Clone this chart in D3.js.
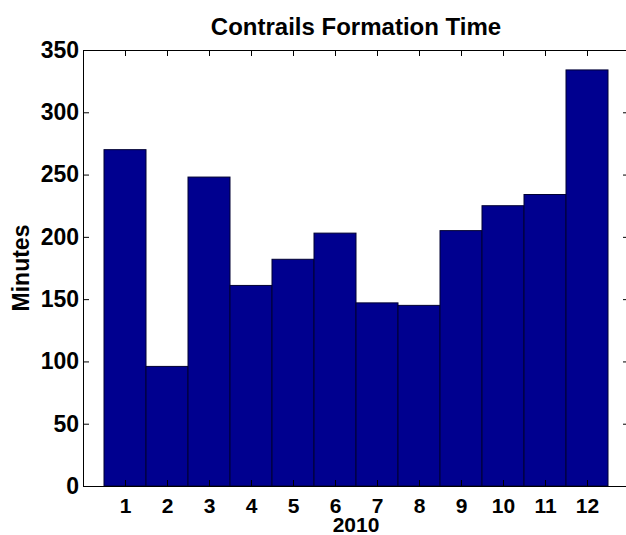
<!DOCTYPE html>
<html>
<head>
<meta charset="utf-8">
<script src="https://cdn.jsdelivr.net/npm/d3@7"></script>
<style>
  html, body { margin: 0; padding: 0; background: #ffffff; }
  svg { display: block; }
  text { font-family: "Liberation Sans", Arial, Helvetica, sans-serif; font-weight: bold; fill: #000; }
</style>
</head>
<body>
<svg id="chart" width="626" height="535"></svg>
<script>
const months = [1, 2, 3, 4, 5, 6, 7, 8, 9, 10, 11, 12];
const minutes = [270, 96, 248, 161, 182, 203, 147, 145, 205, 225, 234, 334];
const yTicks = [0, 50, 100, 150, 200, 250, 300, 350];
const title = "Contrails Formation Time";
const xLabel = "2010";
const yLabel = "Minutes";

const svg = d3.select("#chart");
const m = { left: 83, right: 629, top: 50, bottom: 486 };

const x = d3.scaleLinear().domain([0, 13]).range([m.left, m.right]);
const y = d3.scaleLinear().domain([0, 350]).range([m.bottom, m.top]);

// bars
svg.append("g").selectAll("rect").data(months).join("rect")
  .attr("x", d => x(d - 0.5))
  .attr("width", d => x(d + 0.5) - x(d - 0.5))
  .attr("y", (d, i) => y(minutes[i]))
  .attr("height", (d, i) => y(0) - y(minutes[i]))
  .attr("fill", "#00008f")
  .attr("stroke", "#000033")
  .attr("stroke-width", 1);

// axes (MATLAB style: inward ticks, box)
const tickLen = 6;
const axStyle = g => {
  g.select(".domain").attr("stroke", "#000").attr("stroke-width", 1);
  g.selectAll(".tick line").attr("stroke", "#000").attr("stroke-width", 1);
};

const xAxisB = d3.axisBottom(x).tickValues(months).tickFormat(d3.format("d"))
  .tickSizeInner(-tickLen).tickSizeOuter(0).tickPadding(12);
svg.append("g").attr("transform", `translate(0,${m.bottom})`).call(xAxisB)
  .call(axStyle)
  .call(g => g.selectAll(".tick text").attr("font-size", 21)
    .attr("font-family", "Liberation Sans, Arial, sans-serif").attr("font-weight", "bold")
    .attr("fill", "#000"));

const xAxisT = d3.axisTop(x).tickValues(months).tickFormat("")
  .tickSizeInner(-tickLen).tickSizeOuter(0);
svg.append("g").attr("transform", `translate(0,${m.top})`).call(xAxisT).call(axStyle);

const yAxisL = d3.axisLeft(y).tickValues(yTicks).tickFormat(d3.format("d"))
  .tickSizeInner(-tickLen).tickSizeOuter(0).tickPadding(10);
svg.append("g").attr("transform", `translate(${m.left},0)`).call(yAxisL)
  .call(axStyle)
  .call(g => g.selectAll(".tick text").attr("font-size", 23)
    .attr("font-family", "Liberation Sans, Arial, sans-serif").attr("font-weight", "bold")
    .attr("fill", "#000").attr("x", -4));

const yAxisR = d3.axisRight(y).tickValues(yTicks).tickFormat("")
  .tickSizeInner(-tickLen).tickSizeOuter(0);
svg.append("g").attr("transform", `translate(${m.right},0)`).call(yAxisR).call(axStyle);

// title and labels
svg.append("text").attr("x", (m.left + m.right) / 2).attr("y", 35)
  .attr("text-anchor", "middle").attr("font-size", 24).text(title);

svg.append("text").attr("x", (m.left + m.right) / 2).attr("y", 532)
  .attr("text-anchor", "middle").attr("font-size", 21).text(xLabel);

svg.append("text").attr("transform", `translate(29,${(m.top + m.bottom) / 2}) rotate(-90)`)
  .attr("text-anchor", "middle").attr("font-size", 23).text(yLabel);
</script>
</body>
</html>
